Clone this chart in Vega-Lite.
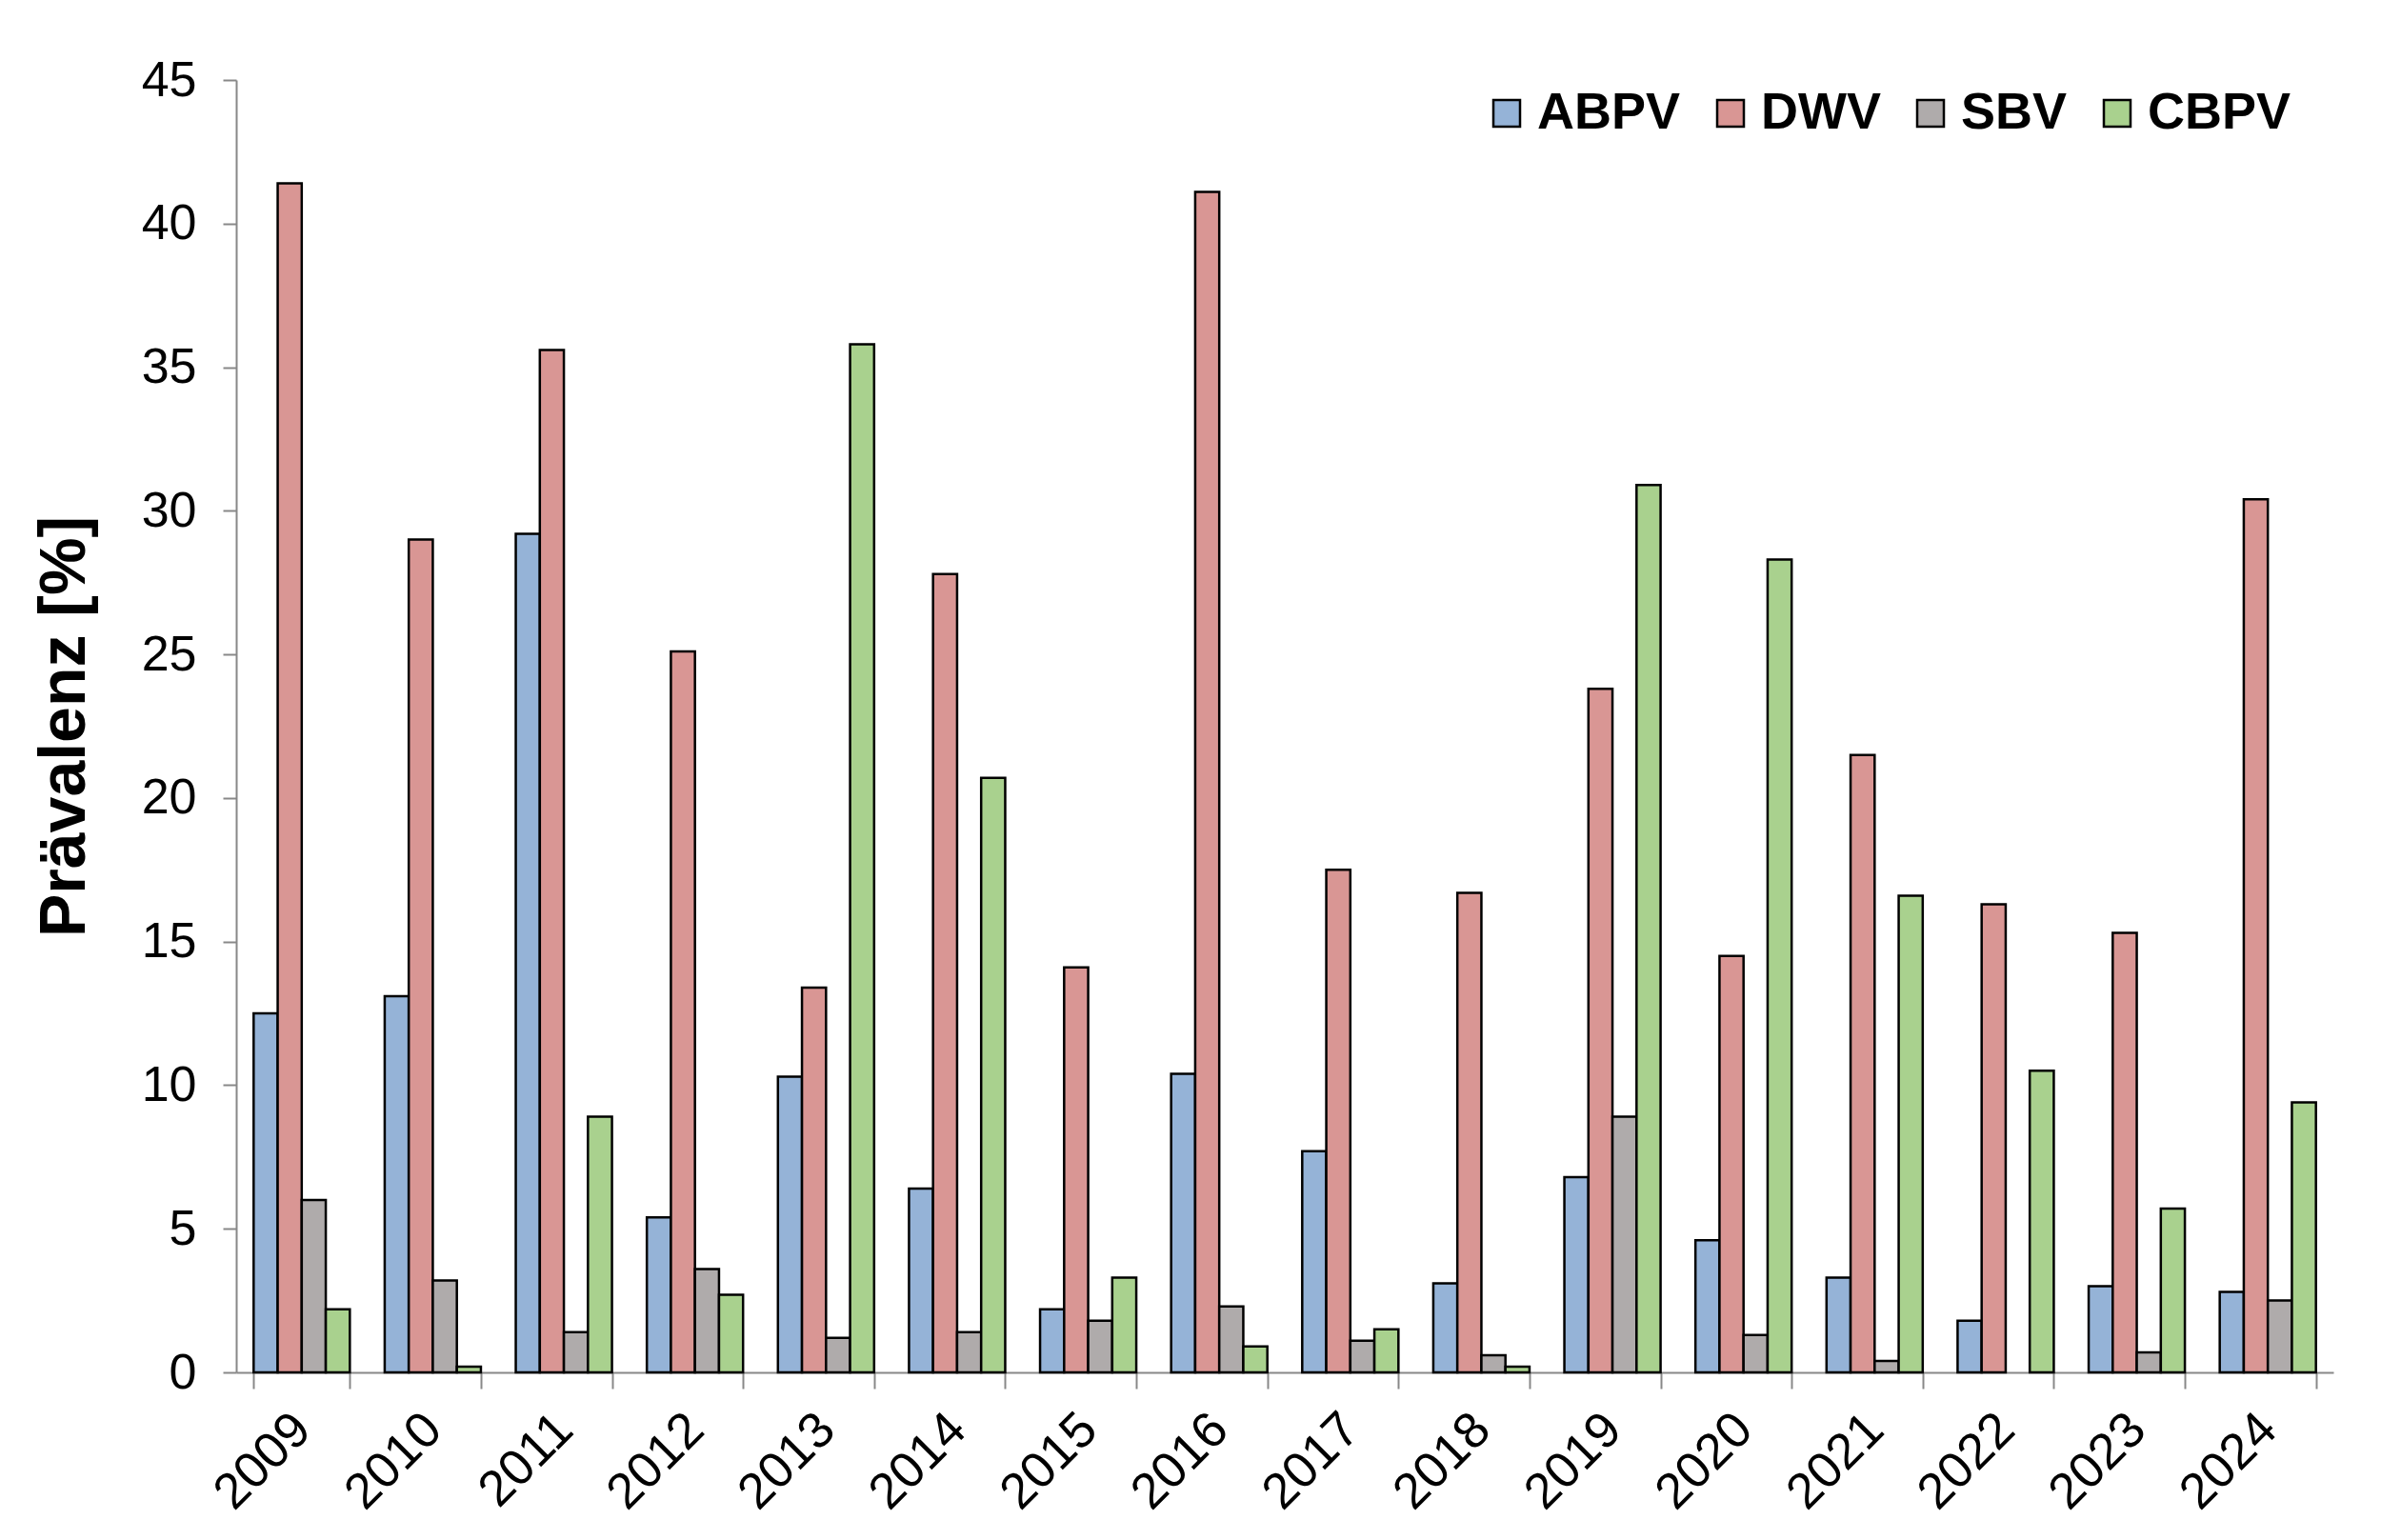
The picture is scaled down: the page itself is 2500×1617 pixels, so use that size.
{
  "$schema": "https://vega.github.io/schema/vega-lite/v6.json",
  "width": 2202,
  "height": 1357,
  "autosize": {"type": "none"},
  "padding": {"left": 248, "top": 84, "right": 50, "bottom": 176},
  "background": "white",
  "data": {
    "values": [
      {"jahr": "2009", "virus": "ABPV", "wert": 12.5},
      {"jahr": "2009", "virus": "DWV", "wert": 41.4},
      {"jahr": "2009", "virus": "SBV", "wert": 6.0},
      {"jahr": "2009", "virus": "CBPV", "wert": 2.2},
      {"jahr": "2010", "virus": "ABPV", "wert": 13.1},
      {"jahr": "2010", "virus": "DWV", "wert": 29.0},
      {"jahr": "2010", "virus": "SBV", "wert": 3.2},
      {"jahr": "2010", "virus": "CBPV", "wert": 0.2},
      {"jahr": "2011", "virus": "ABPV", "wert": 29.2},
      {"jahr": "2011", "virus": "DWV", "wert": 35.6},
      {"jahr": "2011", "virus": "SBV", "wert": 1.4},
      {"jahr": "2011", "virus": "CBPV", "wert": 8.9},
      {"jahr": "2012", "virus": "ABPV", "wert": 5.4},
      {"jahr": "2012", "virus": "DWV", "wert": 25.1},
      {"jahr": "2012", "virus": "SBV", "wert": 3.6},
      {"jahr": "2012", "virus": "CBPV", "wert": 2.7},
      {"jahr": "2013", "virus": "ABPV", "wert": 10.3},
      {"jahr": "2013", "virus": "DWV", "wert": 13.4},
      {"jahr": "2013", "virus": "SBV", "wert": 1.2},
      {"jahr": "2013", "virus": "CBPV", "wert": 35.8},
      {"jahr": "2014", "virus": "ABPV", "wert": 6.4},
      {"jahr": "2014", "virus": "DWV", "wert": 27.8},
      {"jahr": "2014", "virus": "SBV", "wert": 1.4},
      {"jahr": "2014", "virus": "CBPV", "wert": 20.7},
      {"jahr": "2015", "virus": "ABPV", "wert": 2.2},
      {"jahr": "2015", "virus": "DWV", "wert": 14.1},
      {"jahr": "2015", "virus": "SBV", "wert": 1.8},
      {"jahr": "2015", "virus": "CBPV", "wert": 3.3},
      {"jahr": "2016", "virus": "ABPV", "wert": 10.4},
      {"jahr": "2016", "virus": "DWV", "wert": 41.1},
      {"jahr": "2016", "virus": "SBV", "wert": 2.3},
      {"jahr": "2016", "virus": "CBPV", "wert": 0.9},
      {"jahr": "2017", "virus": "ABPV", "wert": 7.7},
      {"jahr": "2017", "virus": "DWV", "wert": 17.5},
      {"jahr": "2017", "virus": "SBV", "wert": 1.1},
      {"jahr": "2017", "virus": "CBPV", "wert": 1.5},
      {"jahr": "2018", "virus": "ABPV", "wert": 3.1},
      {"jahr": "2018", "virus": "DWV", "wert": 16.7},
      {"jahr": "2018", "virus": "SBV", "wert": 0.6},
      {"jahr": "2018", "virus": "CBPV", "wert": 0.2},
      {"jahr": "2019", "virus": "ABPV", "wert": 6.8},
      {"jahr": "2019", "virus": "DWV", "wert": 23.8},
      {"jahr": "2019", "virus": "SBV", "wert": 8.9},
      {"jahr": "2019", "virus": "CBPV", "wert": 30.9},
      {"jahr": "2020", "virus": "ABPV", "wert": 4.6},
      {"jahr": "2020", "virus": "DWV", "wert": 14.5},
      {"jahr": "2020", "virus": "SBV", "wert": 1.3},
      {"jahr": "2020", "virus": "CBPV", "wert": 28.3},
      {"jahr": "2021", "virus": "ABPV", "wert": 3.3},
      {"jahr": "2021", "virus": "DWV", "wert": 21.5},
      {"jahr": "2021", "virus": "SBV", "wert": 0.4},
      {"jahr": "2021", "virus": "CBPV", "wert": 16.6},
      {"jahr": "2022", "virus": "ABPV", "wert": 1.8},
      {"jahr": "2022", "virus": "DWV", "wert": 16.3},
      {"jahr": "2022", "virus": "CBPV", "wert": 10.5},
      {"jahr": "2023", "virus": "ABPV", "wert": 3.0},
      {"jahr": "2023", "virus": "DWV", "wert": 15.3},
      {"jahr": "2023", "virus": "SBV", "wert": 0.7},
      {"jahr": "2023", "virus": "CBPV", "wert": 5.7},
      {"jahr": "2024", "virus": "ABPV", "wert": 2.8},
      {"jahr": "2024", "virus": "DWV", "wert": 30.4},
      {"jahr": "2024", "virus": "SBV", "wert": 2.5},
      {"jahr": "2024", "virus": "CBPV", "wert": 9.4}
    ]
  },
  "mark": {"type": "bar", "stroke": "black", "strokeWidth": 2.5},
  "encoding": {
    "x": {
      "field": "jahr",
      "type": "nominal",
      "scale": {"paddingInner": 0.266, "paddingOuter": 0.133},
      "axis": {
        "title": null,
        "labelAngle": -45,
        "labelFontSize": 53,
        "labelPadding": 16,
        "labelOffset": -18,
        "tickBand": "extent",
        "tickSize": 17,
        "tickWidth": 2,
        "tickColor": "#888888",
        "domainColor": "#888888",
        "domainWidth": 2
      }
    },
    "xOffset": {"field": "virus", "sort": ["ABPV", "DWV", "SBV", "CBPV"]},
    "y": {
      "field": "wert",
      "type": "quantitative",
      "scale": {"domain": [0, 45], "nice": false},
      "axis": {
        "title": "Prävalenz [%]",
        "titleFontSize": 68,
        "titleFontWeight": "bold",
        "titlePadding": 46,
        "values": [0, 5, 10, 15, 20, 25, 30, 35, 40, 45],
        "labelFontSize": 52,
        "labelPadding": 28,
        "tickSize": 14,
        "tickWidth": 2,
        "tickColor": "#888888",
        "domainColor": "#888888",
        "domainWidth": 2,
        "grid": false
      }
    },
    "color": {
      "field": "virus",
      "type": "nominal",
      "sort": ["ABPV", "DWV", "SBV", "CBPV"],
      "scale": {
        "domain": ["ABPV", "DWV", "SBV", "CBPV"],
        "range": ["#95B3D7", "#D99694", "#AFABAB", "#A9D18E"]
      },
      "legend": {
        "title": null,
        "orient": "none",
        "direction": "horizontal",
        "legendX": 1307,
        "legendY": 8,
        "padding": 0,
        "symbolType": "square",
        "symbolSize": 784,
        "symbolStrokeColor": "black",
        "symbolStrokeWidth": 2.5,
        "labelFontSize": 54,
        "labelFontWeight": "bold",
        "labelOffset": 5,
        "columnPadding": 25
      }
    }
  },
  "config": {
    "font": "Liberation Sans",
    "view": {"stroke": null},
    "axis": {"labelColor": "black", "titleColor": "black"},
    "legend": {"labelColor": "black"}
  }
}
